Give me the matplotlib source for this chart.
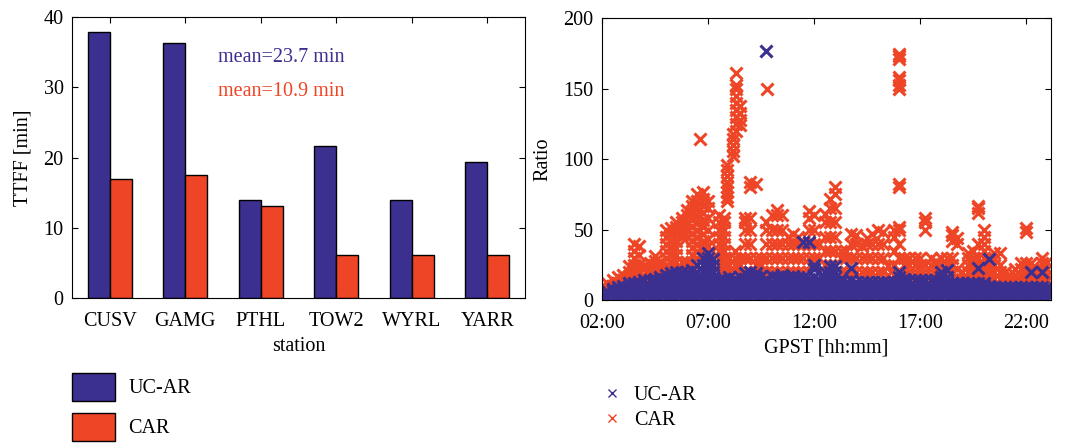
import numpy as np
import matplotlib.pyplot as plt
from matplotlib.patches import Patch
from matplotlib.lines import Line2D

plt.rcParams['font.family'] = ['Liberation Serif', 'DejaVu Serif']

# TTFF per station (min)
stations = ['CUSV', 'GAMG', 'PTHL', 'TOW2', 'WYRL', 'YARR']
ttff_ucar = [37.8, 36.3, 14.0, 21.6, 14.0, 19.4]
ttff_car = [16.9, 17.5, 13.1, 6.2, 6.2, 6.2]

# ratio samples: (GPST hour, [ratio values])
car_cols = [
    (2.0, [0, 5, 10]), (2.25, [8, 12]), (2.5, [10, 14]), (2.75, [12, 16]),
    (3.0, [14, 18]), (3.25, [15, 20, 24]), (3.5, [15, 20, 25, 30, 35, 40]),
    (3.75, [15, 20, 25, 32, 38]), (4.0, [17, 22, 25]), (4.25, [17, 22, 26]),
    (4.5, [18, 23, 28, 31]), (4.75, [18, 23, 27]),
    (5.0, [20, 25, 30, 35, 40, 45, 50]), (5.25, [22, 27, 32, 37, 42, 47, 51]),
    (5.5, [22, 27, 32, 37, 42, 47, 52, 55]), (5.75, [22, 27, 45, 50, 55, 58]),
    (6.0, [22, 27, 45, 50, 55, 60, 64]),
    (6.25, [22, 27, 32, 37, 42, 47, 52, 57, 62, 67, 70]),
    (6.5, [25, 30, 35, 40, 45, 50, 55, 60, 65, 70, 75]),
    (6.6, [114]),
    (6.75, [32, 37, 42, 47, 52, 57, 62, 67, 72, 77]),
    (7.0, [33, 38, 43, 50, 58, 65, 70]), (7.25, [20, 24]),
    (7.5, [20, 25, 30, 35, 40, 45, 50, 55, 60]),
    (7.75, [20, 25, 30, 35, 40, 45, 50, 55, 58]),
    (7.9, [70, 73, 77, 80, 84, 88, 92, 96]),
    (8.0, [20, 25, 30]),
    (8.2, [102, 106, 110, 114, 118]),
    (8.3, [120, 125, 130, 135, 140, 145, 150, 153, 161]),
    (8.25, [20, 25, 30, 35]), (8.5, [20, 25, 30, 124, 128, 133, 138]),
    (8.75, [20, 30, 40, 50, 55, 58]), (9.0, [20, 30, 40, 50, 58, 80, 84]),
    (9.25, [20, 25, 30, 82]), (9.5, [20, 25, 30]),
    (9.75, [20, 30, 40, 50, 55]), (9.8, [150]),
    (10.0, [20, 30, 40, 50, 60]), (10.25, [20, 30, 40, 50, 60, 64]),
    (10.5, [20, 30, 40, 50, 60]), (10.75, [20, 30, 40, 45]),
    (11.0, [20, 30, 40, 47]), (11.25, [20, 30, 40, 45]), (11.5, [20, 30, 40]),
    (11.75, [20, 30, 40, 50, 58, 63]), (12.0, [25, 30, 40, 50, 60]),
    (12.25, [20, 30, 40]), (12.5, [25, 35, 45, 55, 61]),
    (12.75, [25, 35, 45, 55, 65, 72]), (13.0, [25, 35, 45, 55, 65, 75, 80]),
    (13.25, [20, 30, 35]), (13.5, [20, 30, 35]), (13.75, [20, 30, 40, 47]),
    (14.0, [20, 30, 40, 46]), (14.25, [20, 30, 38]), (14.5, [20, 30, 40, 44]),
    (14.75, [20, 30, 40, 47]), (15.0, [20, 30, 40, 50]),
    (15.25, [20, 30, 40, 48]), (15.5, [18, 24]), (15.75, [18, 25, 35, 45, 50]),
    (16.0, [20, 30, 40, 50, 52, 80, 82, 150, 153, 156, 158, 171, 173, 175]),
    (16.25, [18, 25, 30]), (16.5, [18, 25, 30]), (16.75, [18, 25, 30]),
    (17.0, [18, 25, 30]), (17.25, [18, 25, 50, 55, 58]), (17.5, [18, 25, 30]),
    (17.75, [18, 25, 28]), (18.0, [18, 25, 30]), (18.25, [20, 25, 30]),
    (18.5, [20, 25, 30, 42, 46, 48]), (18.75, [15, 22, 40, 44]),
    (19.0, [15, 20]), (19.25, [15, 20, 25, 30, 33]),
    (19.5, [15, 20, 25, 30, 35]), (19.75, [15, 20, 25, 30, 40, 62, 65, 67]),
    (20.0, [15, 20, 25, 30, 35, 40, 45, 50]), (20.25, [15, 20, 25]),
    (20.5, [15, 20, 25, 30, 33]), (20.75, [15, 20, 25, 33]), (21.0, [15, 20]),
    (21.25, [14, 18]), (21.5, [14, 18, 22]), (21.75, [14, 18, 22, 26]),
    (22.0, [14, 18, 22, 26, 48, 51]), (22.25, [14, 18, 22, 26]),
    (22.5, [14, 18, 22]), (22.75, [14, 18, 22, 26, 30]), (23.0, [14, 18, 22, 27]),
]

ucar_cols = [
    (2.0, [0, 3]), (2.25, [1, 4, 6]), (2.5, [1, 4, 6, 8]), (2.75, [1, 4, 7, 9]),
    (3.0, [1, 4, 7, 10]), (3.25, [1, 4, 7, 9, 12]), (3.5, [1, 4, 7, 9, 12]),
    (3.75, [1, 4, 7, 10, 13]), (4.0, [1, 4, 7, 10, 14]), (4.25, [1, 4, 7, 10, 14]),
    (4.5, [1, 4, 7, 10, 13, 15]), (4.75, [1, 4, 7, 10, 13, 16]),
    (5.0, [1, 4, 7, 10, 14, 18]), (5.25, [1, 4, 7, 10, 13, 16, 19]),
    (5.5, [1, 4, 7, 10, 13, 16, 20]), (5.75, [1, 4, 7, 10, 13, 16, 20]),
    (6.0, [1, 4, 7, 10, 13, 16, 20]), (6.25, [1, 4, 7, 10, 13, 16, 21]),
    (6.5, [1, 4, 7, 10, 13, 16, 20, 25]),
    (6.75, [1, 4, 7, 10, 13, 16, 20, 25, 30]),
    (7.0, [1, 4, 7, 10, 13, 16, 20, 25, 30, 33]),
    (7.25, [1, 4, 7, 10, 13, 16, 20, 25, 29]), (7.5, [1, 4, 7, 10, 14]),
    (7.75, [1, 4, 7, 10, 13, 15]), (8.0, [1, 4, 7, 10, 13, 16]),
    (8.25, [1, 4, 7, 10, 13, 15]), (8.5, [1, 4, 7, 10, 13, 16]),
    (8.75, [1, 4, 7, 10, 13, 15, 19]), (9.0, [1, 4, 7, 10, 13, 16, 20]),
    (9.25, [1, 4, 7, 10, 13, 16, 19]), (9.5, [1, 4, 7, 10, 13, 17]),
    (9.75, [1, 4, 7, 10, 13, 15, 177]), (10.0, [1, 4, 7, 10, 13, 17]),
    (10.25, [1, 4, 7, 10, 13, 16]), (10.5, [1, 4, 7, 10, 13, 15, 18]),
    (10.75, [1, 4, 7, 10, 13, 16]), (11.0, [1, 4, 7, 10, 13, 17]),
    (11.25, [1, 4, 7, 10, 13, 16]), (11.5, [1, 4, 7, 10, 13, 16, 41]),
    (11.75, [1, 4, 7, 10, 13, 15, 41]), (12.0, [1, 4, 7, 10, 13, 16, 22, 25]),
    (12.25, [1, 4, 7, 10, 14]), (12.5, [1, 4, 7, 10, 13, 16, 20]),
    (12.75, [1, 4, 7, 10, 13, 16, 20, 24]),
    (13.0, [1, 4, 7, 10, 13, 16, 20, 24]), (13.25, [1, 4, 7, 10, 13, 15]),
    (13.5, [1, 4, 7, 10, 13]), (13.75, [1, 4, 7, 10, 14, 23]),
    (14.0, [1, 4, 7, 10, 13]), (14.25, [1, 4, 7, 10, 13]),
    (14.5, [1, 4, 7, 10, 13]), (14.75, [1, 4, 7, 10, 13]),
    (15.0, [1, 4, 7, 10, 13]), (15.25, [1, 4, 7, 10, 13]),
    (15.5, [1, 4, 7, 10, 13]), (15.75, [1, 4, 7, 10, 13]),
    (16.0, [1, 4, 7, 10, 13, 16, 20]), (16.25, [1, 4, 7, 10, 13, 15]),
    (16.5, [1, 4, 7, 10, 14]), (16.75, [1, 4, 7, 10, 14]),
    (17.0, [1, 4, 7, 10, 14]), (17.25, [1, 4, 7, 10, 14]),
    (17.5, [1, 4, 7, 10, 14]), (17.75, [1, 4, 7, 10, 14]),
    (18.0, [1, 4, 7, 10, 13, 16, 20]), (18.25, [1, 4, 7, 10, 13, 16, 21]),
    (18.5, [1, 4, 7, 10, 12]), (18.75, [1, 4, 7, 10, 12]),
    (19.0, [1, 4, 7, 10, 12]), (19.25, [1, 4, 7, 10, 12]),
    (19.5, [1, 4, 7, 10, 12]), (19.75, [1, 4, 7, 10, 12, 23]),
    (20.0, [1, 4, 7, 10, 12]), (20.25, [1, 4, 7, 10, 29]),
    (20.5, [1, 4, 7, 9]), (20.75, [1, 4, 7, 9]), (21.0, [1, 4, 7, 9]),
    (21.25, [1, 4, 7, 9]), (21.5, [1, 4, 7, 9]), (21.75, [1, 4, 7, 9]),
    (22.0, [1, 4, 7, 9]), (22.25, [1, 4, 7, 9, 20]), (22.5, [1, 4, 7, 9]),
    (22.75, [1, 4, 7, 9, 20]), (23.0, [1, 4, 7, 9]),
]

time_ticks = [2, 7, 12, 17, 22]
time_labels = ['02:00', '07:00', '12:00', '17:00', '22:00']

blue = '#3b2f8f'
red = '#ee4526'
fs = 14.5


def flatten(cols):
    t = [c[0] for c in cols for r in c[1]]
    r = [r for c in cols for r in c[1]]
    return np.array(t), np.array(r)


fig = plt.figure(figsize=(10.68, 4.47), dpi=100)
ax1 = fig.add_axes([0.0674, 0.333, 0.4242, 0.629])
ax2 = fig.add_axes([0.5637, 0.329, 0.4204, 0.630])

# left: TTFF bars
x = np.arange(1, len(stations) + 1)
w = 0.29
ax1.bar(x - w / 2, ttff_ucar, w, color=blue, edgecolor='black', linewidth=1)
ax1.bar(x + w / 2, ttff_car, w, color=red, edgecolor='black', linewidth=1)
ax1.set_xlim(0.5, 6.5)
ax1.set_ylim(0, 40)
ax1.set_xticks(x)
ax1.set_xticklabels(stations)
ax1.set_yticks([0, 10, 20, 30, 40])
ax1.set_xlabel('station', fontsize=fs, labelpad=4)
ax1.set_ylabel('TTFF [min]', fontsize=fs, labelpad=8)
ax1.text(2.43, 34.3, 'mean=23.7 min', color=blue, fontsize=fs, va='center')
ax1.text(2.43, 29.4, 'mean=10.9 min', color=red, fontsize=fs, va='center')
ax1.tick_params(direction='in', top=True, right=True, labelsize=fs, length=4)
ax1.tick_params(axis='y', pad=6)
ax1.tick_params(axis='x', pad=10)

fig.legend(handles=[Patch(facecolor=blue, edgecolor='black'),
                    Patch(facecolor=red, edgecolor='black')],
           labels=['UC-AR', 'CAR'], loc='upper left',
           bbox_to_anchor=(0.054, 0.197), frameon=False, fontsize=fs,
           handlelength=2.15, handleheight=1.75, labelspacing=0.6,
           handletextpad=0.65, borderpad=0.2)

# right: ratio scatter
tc, rc = flatten(car_cols)
tu, ru = flatten(ucar_cols)
ax2.plot(tc, rc, 'x', color=red, markersize=9, markeredgewidth=2.2)
ax2.plot(tu, ru, 'x', color=blue, markersize=9, markeredgewidth=2.2)
ax2.set_xlim(2.0, 23.18)
ax2.set_ylim(0, 200)
ax2.set_xticks(time_ticks)
ax2.set_xticklabels(time_labels)
ax2.set_yticks([0, 50, 100, 150, 200])
ax2.set_xlabel('GPST [hh:mm]', fontsize=fs, labelpad=4)
ax2.set_ylabel('Ratio', fontsize=fs, labelpad=8)
ax2.tick_params(direction='in', top=True, right=True, labelsize=fs, length=4)
ax2.tick_params(axis='y', pad=6)
ax2.tick_params(axis='x', pad=10)

fig.legend(handles=[Line2D([], [], ls='none', marker='x', color=blue, markersize=6),
                    Line2D([], [], ls='none', marker='x', color=red, markersize=6)],
           labels=['UC-AR', 'CAR'], loc='upper left',
           bbox_to_anchor=(0.552, 0.168), frameon=False, fontsize=fs,
           handlelength=0.8, labelspacing=0.3, handletextpad=0.7, borderpad=0.2)

fig.savefig('out.png', dpi=100)
